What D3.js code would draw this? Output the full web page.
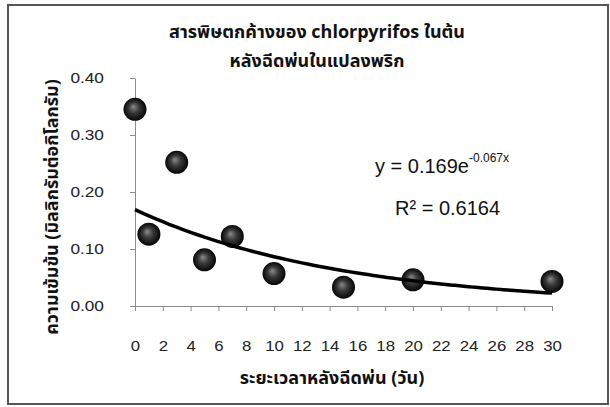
<!DOCTYPE html>
<html>
<head>
<meta charset="utf-8">
<script src="https://cdn.jsdelivr.net/npm/d3@7"></script>
<style>
  body { margin: 0; background: #fff; }
  svg { display: block; }
  .axis path, .axis line { stroke: #8c8c8c; }
  .axis text { font-family: Arial, "Liberation Sans", sans-serif; fill: #222; }
  .thai { font-family: "Noto Sans Thai", Tahoma, "DejaVu Sans", sans-serif; font-weight: bold; fill: #111; }
</style>
</head>
<body>
<div id="chart"></div>
<script>
// residue values
const days = [0, 1, 3, 5, 7, 10, 15, 20, 30];
const residue = [0.345, 0.126, 0.252, 0.081, 0.122, 0.057, 0.033, 0.046, 0.043];
const xTicks = [0, 2, 4, 6, 8, 10, 12, 14, 16, 18, 20, 22, 24, 26, 28, 30];
const yTicks = [0, 0.1, 0.2, 0.3, 0.4];
const titleLines = ['สารพิษตกค้างของ chlorpyrifos ในต้น', 'หลังฉีดพ่นในแปลงพริก'];
const xTitle = 'ระยะเวลาหลังฉีดพ่น (วัน)';
const yTitle = 'ความเข้มข้น (มิลลิกรัมต่อกิโลกรัม)';
// trendline y = a * e^(b x)
const fitA = 0.169, fitB = -0.067;

const config = {
  width: 610, height: 407,
  margin: {top: 78, right: 58, bottom: 101, left: 135}
};
const innerW = config.width - config.margin.left - config.margin.right;
const innerH = config.height - config.margin.top - config.margin.bottom;

const svg = d3.select('#chart').append('svg')
    .attr('width', config.width)
    .attr('height', config.height);

// outer frame
svg.append('rect')
    .attr('x', 8).attr('y', 5)
    .attr('width', 600).attr('height', 399)
    .attr('fill', '#fff')
    .attr('stroke', '#555')
    .attr('stroke-width', 2);

const defs = svg.append('defs');
const ball = defs.append('radialGradient')
    .attr('id', 'ball')
    .attr('cx', '50%').attr('cy', '50%').attr('r', '50%')
    .attr('fx', '42%').attr('fy', '38%');
ball.append('stop').attr('offset', '0%').attr('stop-color', '#8a8a8a');
ball.append('stop').attr('offset', '45%').attr('stop-color', '#3a3a3a');
ball.append('stop').attr('offset', '100%').attr('stop-color', '#050505');

const g = svg.append('g')
    .attr('transform', `translate(${config.margin.left},${config.margin.top})`);

const xScale = d3.scaleLinear().domain([0, 30]).range([0, innerW]);
const yScale = d3.scaleLinear().domain([0, 0.4]).range([innerH, 0]);

const xAxis = d3.axisBottom(xScale)
    .tickValues(xTicks)
    .tickSize(5)
    .tickPadding(30)
    .tickSizeOuter(0)
    .tickFormat(d3.format('d'));

const yAxis = d3.axisLeft(yScale)
    .tickValues(yTicks)
    .tickSize(5)
    .tickPadding(22)
    .tickSizeOuter(0)
    .tickFormat(d3.format('.2f'));

const xAxisG = g.append('g')
    .attr('class', 'axis x-axis')
    .attr('transform', `translate(0,${innerH})`)
    .call(xAxis);
xAxisG.selectAll('text')
    .style('font-size', '14px')
    .attr('transform', 'scale(1.2,1)');

const yAxisG = g.append('g')
    .attr('class', 'axis y-axis')
    .call(yAxis);
yAxisG.selectAll('text')
    .style('font-size', '15px')
    .attr('transform', 'scale(1.15,1)');

// points
g.selectAll('.pt')
    .data(days.map((d, i) => [d, residue[i]]))
  .join('circle')
    .attr('class', 'pt')
    .attr('cx', d => xScale(d[0]))
    .attr('cy', d => yScale(d[1]))
    .attr('r', 11.5)
    .attr('fill', 'url(#ball)');

// exponential trendline
const fitLine = d3.line()
    .x(d => xScale(d))
    .y(d => yScale(fitA * Math.exp(fitB * d)))
    .curve(d3.curveBasis);
g.append('path')
    .datum(d3.range(0, 30.01, 0.5))
    .attr('d', fitLine)
    .attr('fill', 'none')
    .attr('stroke', '#000')
    .attr('stroke-width', 3.5);

// equation labels
const eq = svg.append('text')
    .attr('x', 375).attr('y', 173)
    .style('font-family', 'Arial, "Liberation Sans", sans-serif')
    .style('font-size', '20px')
    .attr('fill', '#111');
eq.append('tspan').text(`y = ${fitA}e`);
eq.append('tspan')
    .attr('dy', -11)
    .style('font-size', '12px')
    .text(`${fitB}x`);

svg.append('text')
    .attr('x', 395).attr('y', 215)
    .style('font-family', 'Arial, "Liberation Sans", sans-serif')
    .style('font-size', '20px')
    .attr('fill', '#111')
    .text('R² = 0.6164');

// titles
svg.selectAll('.title')
    .data(titleLines)
  .join('text')
    .attr('class', 'title thai')
    .attr('x', 317)
    .attr('y', (d, i) => 38 + i * 29)
    .attr('text-anchor', 'middle')
    .style('font-size', '18px')
    .text(d => d);

svg.append('text')
    .attr('class', 'thai')
    .attr('x', 332).attr('y', 384)
    .attr('text-anchor', 'middle')
    .style('font-size', '18px')
    .text(xTitle);

svg.append('text')
    .attr('class', 'thai')
    .attr('transform', 'translate(58,207) rotate(-90)')
    .attr('text-anchor', 'middle')
    .style('font-size', '18px')
    .text(yTitle);
</script>
</body>
</html>
